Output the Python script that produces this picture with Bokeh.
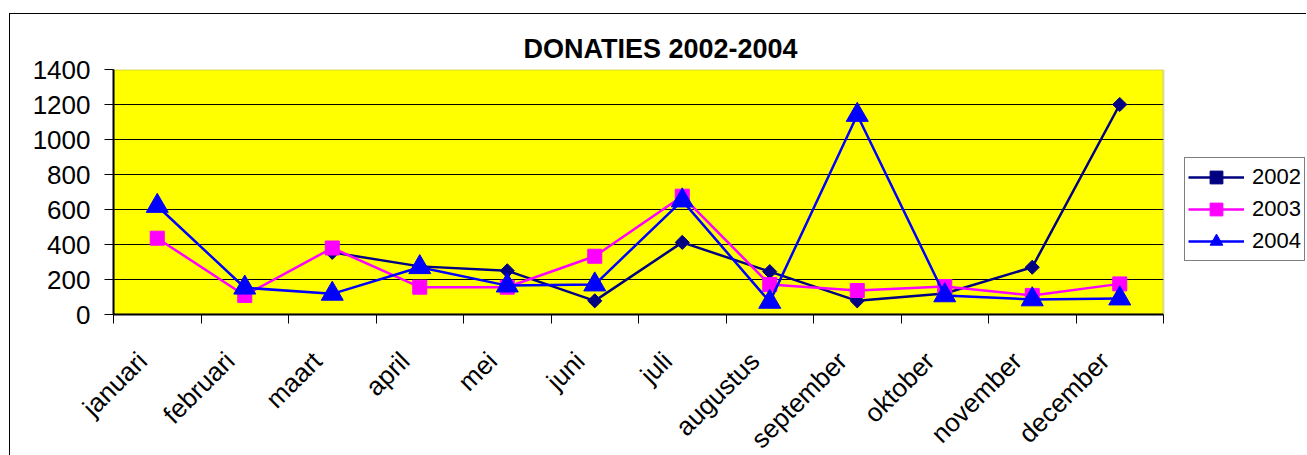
import numpy as np
from bokeh.plotting import figure
from bokeh.models import (Range1d, FixedTicker, Legend, LegendItem, ColumnDataSource, BoxAnnotation)
from bokeh.embed import file_html
from bokeh.resources import INLINE

nan = float("nan")

months = ["januari", "februari", "maart", "april", "mei", "juni", "juli",
          "augustus", "september", "oktober", "november", "december"]
d2002 = [nan, nan, 355, 275, 250, 78, 412, 245, 78, 120, 270, 1200]
d2003 = [436, 109, 380, 156, 156, 333, 676, 171, 137, 160, 109, 175]
d2004 = [620, 153, 118, 270, 165, 171, 651, 72, 1140, 109, 86, 91]
y_ticks = [0, 200, 400, 600, 800, 1000, 1200, 1400]
Y_MAX = 1400

FONT = "Liberation Sans"
LABEL_SHIFT = 0.17        # horizontal shift of rotated month labels (category units)
PLOT_W, FRAME_W = 1050, 1194   # yellow plot area width vs. full frame (legend lives at right)

n = len(months)
xpos = [i + 0.5 for i in range(n)]
label_pos = [x - LABEL_SHIFT for x in xpos]
x_end = n * FRAME_W / PLOT_W

p = figure(width=1297, height=453, output_backend="svg", toolbar_location=None,
           x_range=Range1d(0, x_end), y_range=Range1d(0, Y_MAX))
p.margin = (13, 0, 0, 9)
p.styles = {"border-left": "1px solid #000000", "border-top": "1px solid #000000"}
p.min_border_left = 103
p.min_border_right = 0
p.min_border_top = 55
p.min_border_bottom = 153

p.background_fill_color = "#FFFFFF"
p.border_fill_color = "#FFFFFF"
p.outline_line_color = None

# yellow plot area (below grid)
p.add_layout(BoxAnnotation(left=0, right=n, bottom=0, top=Y_MAX, level="image",
                           fill_color="#FFFF00", fill_alpha=1, line_color=None))

# title
p.title.text = "DONATIES 2002-2004"
p.title.text_font = FONT
p.title.text_font_size = "27px"
p.title.text_font_style = "bold"
p.title.text_color = "#000000"
p.title.align = "left"
p.title.offset = 410
p.title.standoff = 11

# x axis
xa = p.xaxis[0]
xa.bounds = (0, n)
xa.ticker = FixedTicker(ticks=label_pos, minor_ticks=list(range(n + 1)))
xa.major_label_overrides = {x: m for x, m in zip(label_pos, months)}
xa.major_tick_out = 0
xa.major_tick_in = 0
xa.minor_tick_out = 9
xa.minor_tick_in = 0
xa.minor_tick_line_color = "#000000"
xa.axis_line_color = "#000000"
xa.axis_line_width = 2
xa.major_label_orientation = np.pi / 4
xa.major_label_text_font = FONT
xa.major_label_text_font_size = "26px"
xa.major_label_text_color = "#000000"
xa.major_label_standoff = 33

# y axis
ya = p.yaxis[0]
ya.ticker = FixedTicker(ticks=y_ticks, minor_ticks=[])
ya.major_tick_out = 9
ya.major_tick_in = 0
ya.major_tick_line_color = "#000000"
ya.axis_line_color = "#000000"
ya.axis_line_width = 2
ya.major_label_text_font = FONT
ya.major_label_text_font_size = "26px"
ya.major_label_text_color = "#000000"
ya.major_label_standoff = 14

p.xgrid.visible = False
p.ygrid.ticker = FixedTicker(ticks=y_ticks)
p.ygrid.grid_line_color = "#000000"
p.ygrid.grid_line_width = 1

# white area right of the plot area (hides grid there) and grey plot-area border
p.add_layout(BoxAnnotation(left=n, level="underlay", fill_color="#FFFFFF",
                           fill_alpha=1, line_color=None))
p.add_layout(BoxAnnotation(left=0, right=n, bottom=0, top=Y_MAX, level="underlay",
                           fill_alpha=0, line_color="#808080", line_width=2))

src = ColumnDataSource(dict(x=xpos, a=d2002, b=d2003, c=d2004))

l1 = p.line("x", "a", source=src, line_color="#000080", line_width=2.5)
m1 = p.scatter("x", "a", source=src, marker="square", angle=np.pi / 4, size=10,
               fill_color="#000080", line_color="#000080", line_width=1)
l2 = p.line("x", "b", source=src, line_color="#FF00FF", line_width=2.5)
m2 = p.scatter("x", "b", source=src, marker="square", size=14,
               fill_color="#FF00FF", line_color="#FF00FF")
l3 = p.line("x", "c", source=src, line_color="#0000FF", line_width=2.5)
m3 = p.scatter("x", "c", source=src, marker="triangle", size=22,
               fill_color="#0000FF", line_color="#0000FF")

legend = Legend(items=[LegendItem(label="2002", renderers=[l1, m1]),
                       LegendItem(label="2003", renderers=[l2, m2]),
                       LegendItem(label="2004", renderers=[l3, m3])],
                location=(1071, 53))
legend.border_line_color = "#000000"
legend.border_line_width = 1
legend.background_fill_color = "#FFFFFF"
legend.background_fill_alpha = 1
legend.label_text_font = FONT
legend.label_text_font_size = "22px"
legend.label_text_color = "#000000"
legend.glyph_width = 56
legend.glyph_height = 32
legend.label_height = 32
legend.spacing = 0
legend.padding = 3
legend.margin = 0
legend.label_standoff = 8
p.add_layout(legend, "center")

open("out.html", "w").write(file_html(p, INLINE))
